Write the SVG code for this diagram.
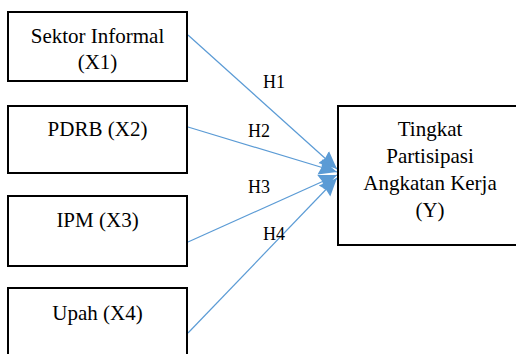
<svg xmlns="http://www.w3.org/2000/svg" width="516" height="354" viewBox="0 0 516 354">
<style>
.box{fill:#fff;stroke:#000;stroke-width:2}
.t{font-family:'Liberation Serif','Times New Roman',serif;font-size:21px;fill:#000;text-anchor:middle}
.h{font-family:'Liberation Serif','Times New Roman',serif;font-size:18px;fill:#000}
.c{stroke:#5B9BD5;stroke-width:1.2;fill:none;marker-end:url(#ah)}
</style>
<defs>
<marker id="ah" markerUnits="userSpaceOnUse" markerWidth="22" markerHeight="20" refX="18" refY="10" orient="auto">
<path d="M0,2 L18,10 L0,18 L2,10 Z" fill="#5B9BD5"/>
</marker>
</defs>
<rect width="516" height="354" fill="#fff"/>
<g id="connectors">
<line class="c" x1="188" y1="35" x2="337" y2="169"/>
<line class="c" x1="188" y1="127" x2="337" y2="172"/>
<line class="c" x1="188" y1="242" x2="337" y2="175"/>
<line class="c" x1="188" y1="333" x2="337" y2="178"/>
<text class="h" x="263" y="88">H1</text>
<text class="h" x="248" y="137">H2</text>
<text class="h" x="248" y="193">H3</text>
<text class="h" x="263" y="240">H4</text>
</g>
<g id="x1">
<rect class="box" x="8" y="12" width="179" height="69"/>
<text class="t" x="97.5" y="43">Sektor Informal</text>
<text class="t" x="97.5" y="69">(X1)</text>
</g>
<g id="x2">
<rect class="box" x="8" y="106" width="179" height="67"/>
<text class="t" x="97.5" y="136">PDRB (X2)</text>
</g>
<g id="x3">
<rect class="box" x="8" y="196" width="179" height="70"/>
<text class="t" x="97.5" y="227">IPM (X3)</text>
</g>
<g id="x4">
<rect class="box" x="8" y="288" width="179" height="80"/>
<text class="t" x="97.5" y="320">Upah (X4)</text>
</g>
<g id="y">
<rect class="box" x="338" y="106" width="184" height="139"/>
<text class="t" x="430" y="136">Tingkat</text>
<text class="t" x="430" y="163">Partisipasi</text>
<text class="t" x="430" y="190">Angkatan Kerja</text>
<text class="t" x="430" y="217">(Y)</text>
</g>
</svg>
